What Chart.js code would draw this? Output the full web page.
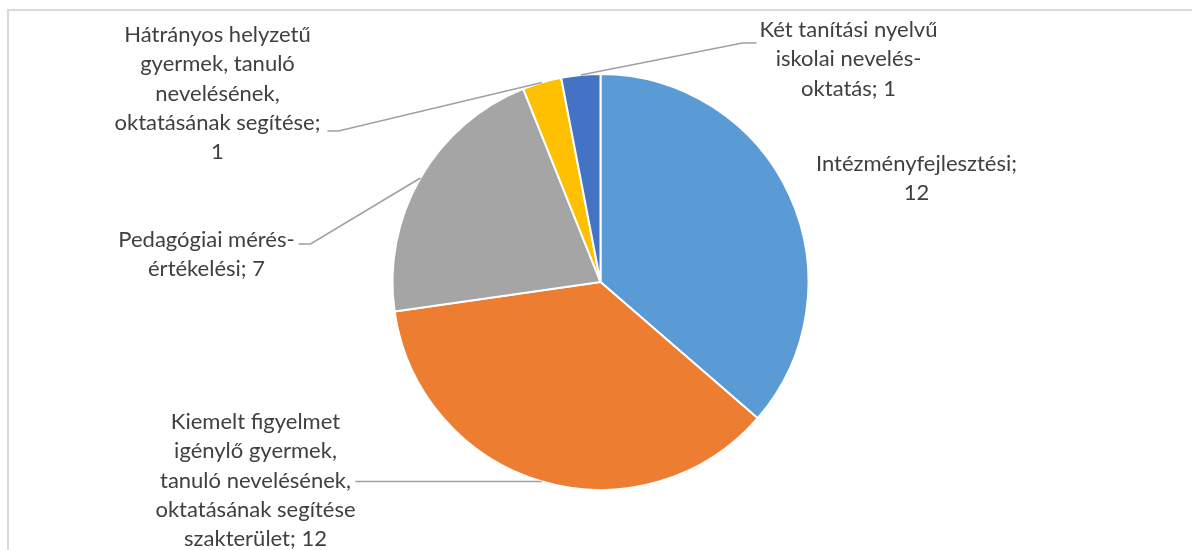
<!DOCTYPE html>
<html lang="hu">
<head>
<meta charset="utf-8">
<title>Szakterületek</title>
<script src="https://cdn.jsdelivr.net/npm/chart.js@4"></script>
<style>
  body { margin: 0; background: #fff; }
  #wrap { position: relative; width: 1192px; height: 550px; overflow: hidden; }
  #frame {
    position: absolute; left: 7px; top: 9px; width: 1300px; height: 700px;
    border-left: 2px solid #d9d9d9; border-top: 2px solid #d9d9d9;
  }
  canvas { position: absolute; left: 0; top: 0; }
</style>
</head>
<body>
<div id="wrap">
  <div id="frame"></div>
  <canvas id="pieChart"></canvas>
</div>
<script>
// Adatok
const categories = [
  ['Intézményfejlesztési;'],
  ['Kiemelt figyelmet', 'igénylő gyermek,', 'tanuló nevelésének,', 'oktatásának segítése', 'szakterület;'],
  ['Pedagógiai mérés-', 'értékelési;'],
  ['Hátrányos helyzetű', 'gyermek, tanuló', 'nevelésének,', 'oktatásának segítése;'],
  ['Két tanítási nyelvű', 'iskolai nevelés-', 'oktatás;']
];
const values = [12, 12, 7, 1, 1];
const colors = ['#5B9BD5', '#ED7D31', '#A5A5A5', '#FFC000', '#4472C4'];

// Címkék elhelyezése a kör középpontjához képest (px)
// tx/ty: a szövegblokk közepe / első sor, elbow + end: a vezetővonal töréspontja és vége
const labelLayout = [
  { tx: 316, ty: -118, ownLine: true },
  { tx: -345, ty: 140, elbow: null, end: [-245, 199] },
  { tx: -394, ty: -42, elbow: [-290, -38], end: [-302, -38] },
  { tx: -383, ty: -247, ownLine: true, elbow: [-262, -151], end: [-273, -151] },
  { tx: 248, ty: -252, elbow: [142, -239], end: [156, -239] }
];
const lineHeight = 29.3;

// Plugin: adatfeliratok vezetővonallal
const pieLabels = {
  id: 'pieLabels',
  afterDatasetsDraw(chart) {
    const { ctx } = chart;
    const arcs = chart.getDatasetMeta(0).data;
    ctx.save();
    arcs.forEach((arc, i) => {
      const p = arc.getProps(['x', 'y', 'startAngle', 'endAngle', 'outerRadius'], true);
      const mid = (p.startAngle + p.endAngle) / 2;
      const ax = p.x + Math.cos(mid) * p.outerRadius;
      const ay = p.y + Math.sin(mid) * p.outerRadius;
      const lay = labelLayout[i];

      // Vezetővonal
      if (lay.end) {
        ctx.strokeStyle = '#a0a0a0';
        ctx.lineWidth = 1.6;
        ctx.beginPath();
        ctx.moveTo(ax, ay);
        if (lay.elbow) ctx.lineTo(p.x + lay.elbow[0], p.y + lay.elbow[1]);
        ctx.lineTo(p.x + lay.end[0], p.y + (lay.elbow ? lay.elbow[1] : ay - p.y));
        ctx.stroke();
      }

      // Szöveg
      const lines = categories[i].slice();
      if (lay.ownLine) {
        lines.push(String(values[i]));
      } else {
        lines[lines.length - 1] += ' ' + values[i];
      }
      ctx.fillStyle = '#404040';
      ctx.font = '22px Lato';
      ctx.textAlign = 'center';
      ctx.textBaseline = 'middle';
      lines.forEach((ln, k) => {
        ctx.fillText(ln, p.x + lay.tx, p.y + lay.ty + k * lineHeight);
      });
    });
    ctx.restore();
  }
};

const chartCanvas = document.getElementById('pieChart');
chartCanvas.width = 1192;
chartCanvas.height = 550;

new Chart(chartCanvas, {
  type: 'pie',
  data: {
    labels: categories,
    datasets: [{
      data: values,
      backgroundColor: colors,
      borderColor: '#ffffff',
      borderWidth: 2
    }]
  },
  options: {
    responsive: false,
    animation: false,
    radius: 208,
    layout: { padding: { top: 73, bottom: 59, left: 100, right: 91 } },
    plugins: {
      legend: { display: false },
      tooltip: { enabled: false }
    }
  },
  plugins: [pieLabels]
});
</script>
</body>
</html>
